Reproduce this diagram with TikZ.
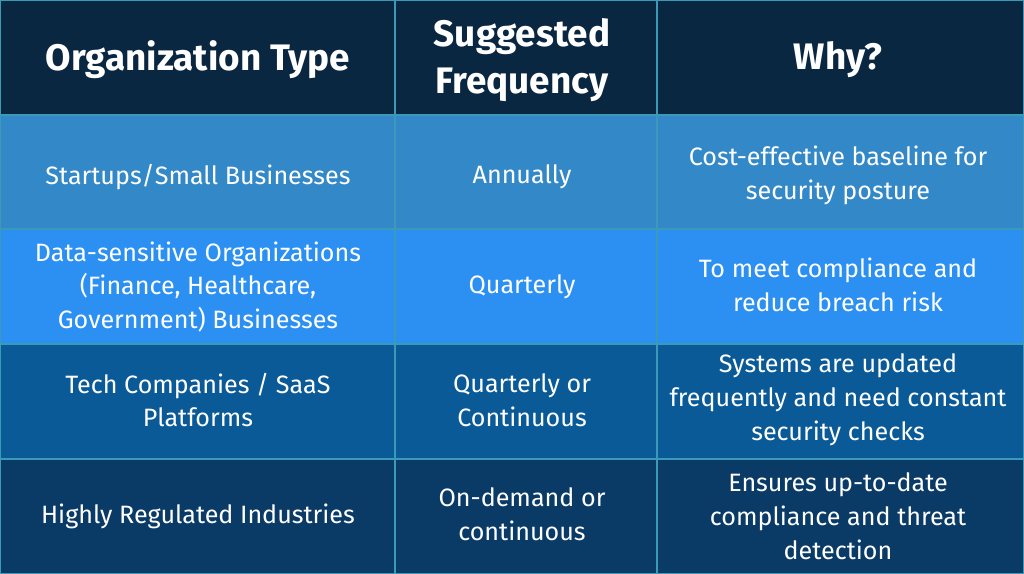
\documentclass[tikz,border=0pt]{standalone}
\usepackage{fontspec}
\setmainfont{Fira Sans}
\definecolor{headbg}{HTML}{0A2742}
\definecolor{rowa}{HTML}{3388C8}
\definecolor{rowb}{HTML}{2B90F2}
\definecolor{rowc}{HTML}{0B5A98}
\definecolor{rowd}{HTML}{0A3A66}
\definecolor{gridline}{HTML}{3A9AB8}
\begin{document}
\begin{tikzpicture}%
	[x=0.02cm,
	y=-0.02cm,
	grid/.style={draw=gridline, line width=0.8pt},
	head/.style={text=white, font=\fontsize{21}{26.5}\selectfont\bfseries, align=center},
	cell/.style={text=white, font=\fontsize{14.3}{19.3}\selectfont, align=center}]
%
\useasboundingbox (0,0) rectangle (1024,574);
%% backgrounds
\fill[headbg] (0,0) rectangle (1024,115);
\fill[rowa] (0,115) rectangle (1024,229);
\fill[rowb] (0,229) rectangle (1024,344);
\fill[rowc] (0,344) rectangle (1024,459);
\fill[rowd] (0,459) rectangle (1024,574);
%% grid
\foreach \y in {115,229,344,459} \draw[grid] (0,\y) -- (1024,\y);
\foreach \x in {395,657} \draw[grid] (\x,0) -- (\x,574);
\draw[grid] (0.5,0.5) rectangle (1023.5,573.5);
%% header
\node[head] (orgtype) at (198,60) {Organization Type};
\node[head] (freq) at (522,60) {Suggested\\Frequency};
\node[head] (why) at (838,60) {Why?};
%% rows
\node[cell] (org1) at (198,177) {Startups/Small Businesses};
\node[cell] (freq1) at (522,177) {Annually};
\node[cell] (why1) at (838,175) {Cost-effective baseline for\\security posture};
\node[cell] (org2) at (198,287) {Data-sensitive Organizations\\(Finance, Healthcare,\\Government) Businesses};
\node[cell] (freq2) at (522,287) {Quarterly};
\node[cell] (why2) at (838,285) {To meet compliance and\\reduce breach risk};
\node[cell] (org3) at (198,400) {Tech Companies / SaaS\\Platforms};
\node[cell] (freq3) at (522,400) {Quarterly or\\Continuous};
\node[cell] (why3) at (838,400) {Systems are updated\\frequently and need constant\\security checks};
\node[cell] (org4) at (198,516) {Highly Regulated Industries};
\node[cell] (freq4) at (522,514) {On-demand or\\continuous};
\node[cell] (why4) at (838,516) {Ensures up-to-date\\compliance and threat\\detection};
\end{tikzpicture}
\end{document}
